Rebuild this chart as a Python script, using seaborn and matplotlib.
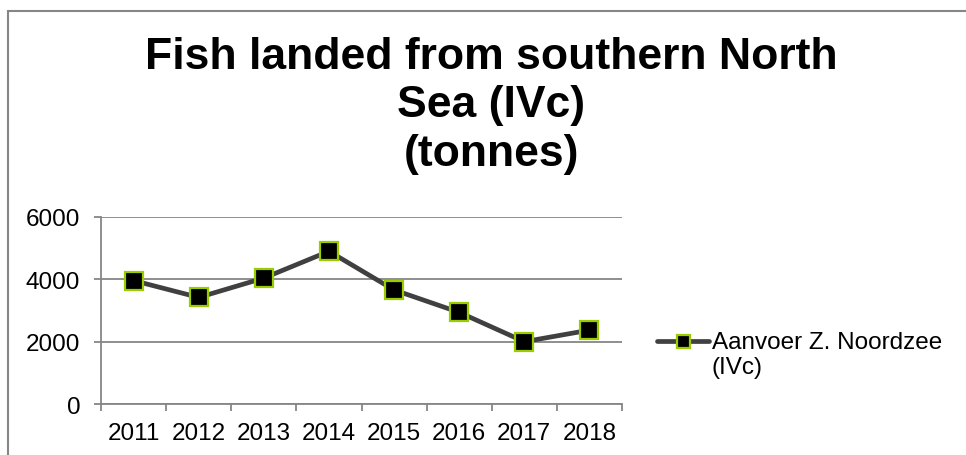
import matplotlib
matplotlib.use("Agg")
import matplotlib.pyplot as plt
import seaborn as sns
import pandas as pd
import numpy as np
from matplotlib.patches import Rectangle
from matplotlib.ticker import FixedLocator

years = ["2011", "2012", "2013", "2014", "2015", "2016", "2017", "2018"]
landings = [3960, 3420, 4040, 4900, 3660, 2940, 2000, 2370]
series_label = "Aanvoer Z. Noordzee\n(IVc)"
title = "Fish landed from southern North\nSea (IVc)\n(tonnes)"
y_ticks = [0, 2000, 4000, 6000]

sns.set_theme(style="white")
plt.rcParams['font.family'] = ['Liberation Sans', 'DejaVu Sans']
plt.rcParams['text.color'] = 'black'

GRAY = "#868686"
df = pd.DataFrame({"year": years, "tonnes": landings})

fig = plt.figure(figsize=(9.66, 4.56), dpi=100)
ax = fig.add_axes([101/966, 1-405/456, 521/966, 187/456])

sns.lineplot(data=df, x="year", y="tonnes", ax=ax, sort=False,
             color="#404040", lw=3.4, marker="s", markersize=13,
             markerfacecolor="black", markeredgecolor="#9acd00",
             markeredgewidth=1.6, label=series_label, zorder=3)

ax.set_xlim(-0.5, len(years) - 0.5)
ax.set_ylim(0, 6000)
ax.set_yticks(y_ticks)
ax.set_yticklabels([str(v) for v in y_ticks])
ax.set_xlabel("")
ax.set_ylabel("")

ax.grid(axis="y", color=GRAY, lw=1.3)
ax.grid(axis="x", visible=False)
ax.set_axisbelow(True)
for s in ["top", "right"]:
    ax.spines[s].set_visible(False)
for s in ["left", "bottom"]:
    ax.spines[s].set_color(GRAY)
    ax.spines[s].set_linewidth(1.3)

ax.xaxis.set_minor_locator(FixedLocator(np.arange(-0.5, len(years), 1.0)))
ax.tick_params(axis="x", which="major", length=0, pad=13, labelsize=17.5,
               labelcolor="black", bottom=True)
ax.tick_params(axis="x", which="minor", length=5, width=1.3, color=GRAY,
               bottom=True, direction="out")
ax.tick_params(axis="y", which="major", length=5, width=1.3, color=GRAY,
               left=True, direction="out", pad=10, labelsize=17.5,
               labelcolor="black")

leg = ax.legend(loc="upper left", bbox_to_anchor=(657/966, 1-332/456),
                bbox_transform=fig.transFigure, frameon=False, fontsize=17.5,
                handlelength=2.15, handletextpad=0.1, borderpad=0,
                borderaxespad=0, handleheight=1.0, markerscale=0.72,
                labelcolor="black")
for col in leg._legend_handle_box.get_children():
    for item in col.get_children():
        item.align = "top"

fig.text(491/966, 1-37/456, title, ha="center", va="top", fontsize=32,
         fontweight="bold", linespacing=1.23, color="black")

fig.add_artist(Rectangle((8/966, -0.1), 1.2, 1-12/456+0.1, fill=False,
                         edgecolor=GRAY, lw=1.5, transform=fig.transFigure))

fig.savefig("out.png", dpi=100)
